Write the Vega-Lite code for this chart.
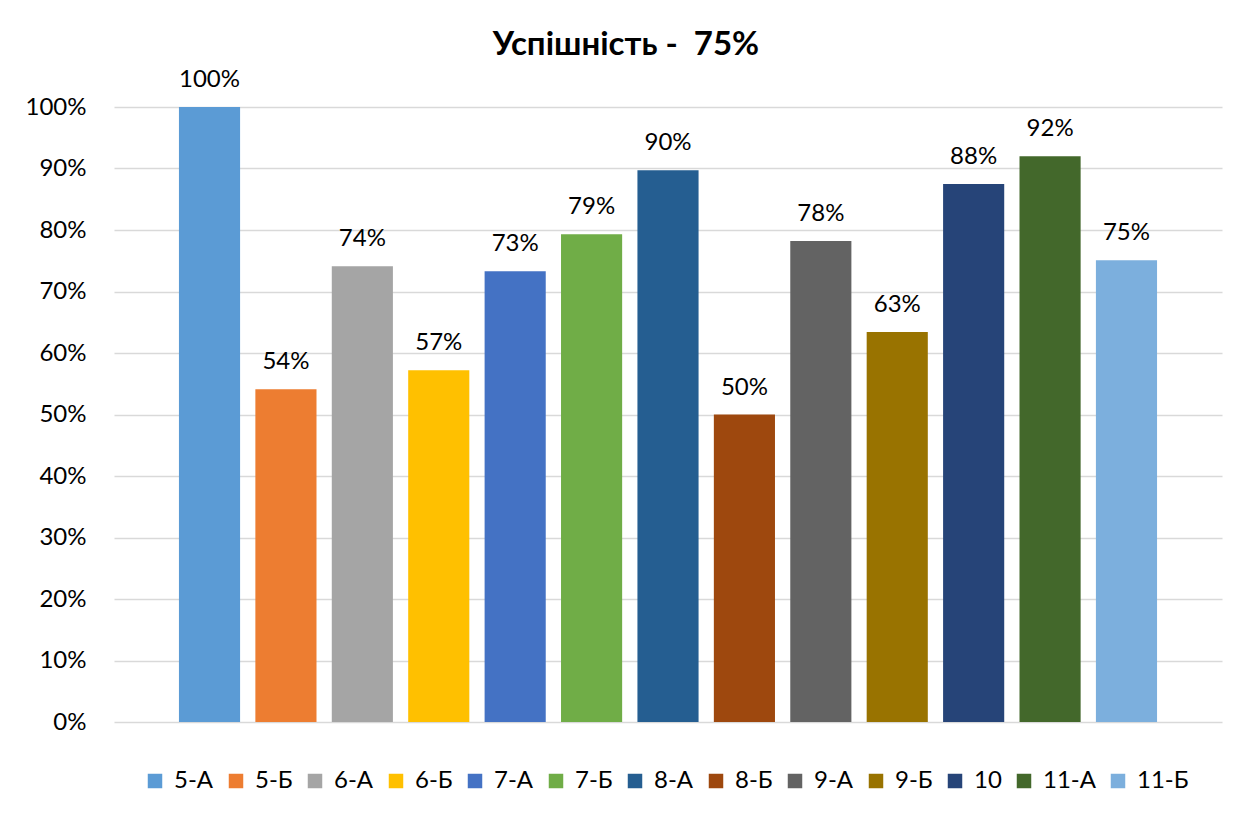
{
  "$schema": "https://vega.github.io/schema/vega-lite/v6.json",
  "width": 1108,
  "height": 615,
  "autosize": {"type": "none"},
  "padding": {"left": 114, "top": 107, "right": 37, "bottom": 96},
  "background": "white",
  "data": {
    "values": [
      {"class": "5-А", "value": 1.0},
      {"class": "5-Б", "value": 0.541},
      {"class": "6-А", "value": 0.741},
      {"class": "6-Б", "value": 0.572},
      {"class": "7-А", "value": 0.733},
      {"class": "7-Б", "value": 0.793},
      {"class": "8-А", "value": 0.897},
      {"class": "8-Б", "value": 0.5},
      {"class": "9-А", "value": 0.782},
      {"class": "9-Б", "value": 0.634},
      {"class": "10", "value": 0.875},
      {"class": "11-А", "value": 0.92},
      {"class": "11-Б", "value": 0.751}
    ]
  },
  "title": {
    "text": "Успішність -\u00a0\u00a075%",
    "font": "Lato",
    "fontSize": 33,
    "fontWeight": "bold",
    "color": "#000000",
    "anchor": "middle",
    "dx": -42,
    "offset": 6
  },
  "encoding": {
    "x": {
      "field": "class",
      "type": "nominal",
      "sort": null,
      "scale": {"paddingInner": 0.2, "paddingOuter": 0.85},
      "axis": null
    },
    "y": {
      "field": "value",
      "type": "quantitative",
      "scale": {"domain": [0, 1], "nice": false},
      "axis": {
        "title": null,
        "format": ".0%",
        "values": [0, 0.1, 0.2, 0.3, 0.4, 0.5, 0.6, 0.7, 0.8, 0.9, 1.0],
        "domain": false,
        "ticks": false,
        "labelFont": "Lato",
        "labelFontSize": 24,
        "labelColor": "#000000",
        "labelPadding": 28,
        "gridColor": "#d9d9d9",
        "gridWidth": 1.5
      }
    }
  },
  "layer": [
    {
      "mark": {"type": "bar"},
      "encoding": {
        "color": {
          "field": "class",
          "type": "nominal",
          "sort": null,
          "scale": {
            "domain": ["5-А", "5-Б", "6-А", "6-Б", "7-А", "7-Б", "8-А", "8-Б", "9-А", "9-Б", "10", "11-А", "11-Б"],
            "range": ["#5B9BD5", "#ED7D31", "#A5A5A5", "#FFC000", "#4472C4", "#70AD47", "#255E91", "#9E480E", "#636363", "#997300", "#264478", "#43682B", "#7CAFDD"]
          },
          "legend": {
            "orient": "none",
            "legendX": 29,
            "legendY": 662,
            "direction": "horizontal",
            "columns": 13,
            "gridAlign": "each",
            "title": null,
            "symbolType": "square",
            "symbolSize": 210,
            "symbolStrokeWidth": 0,
            "labelFont": "Lato",
            "labelFontSize": 24,
            "labelColor": "#000000",
            "labelOffset": 7,
            "columnPadding": 10,
            "padding": 0
          }
        }
      }
    },
    {
      "mark": {"type": "text", "dy": -20, "baseline": "alphabetic", "font": "Lato", "fontSize": 24, "color": "#000000"},
      "encoding": {
        "text": {"field": "value", "type": "quantitative", "format": ".0%"}
      }
    }
  ],
  "config": {"view": {"stroke": null}}
}
